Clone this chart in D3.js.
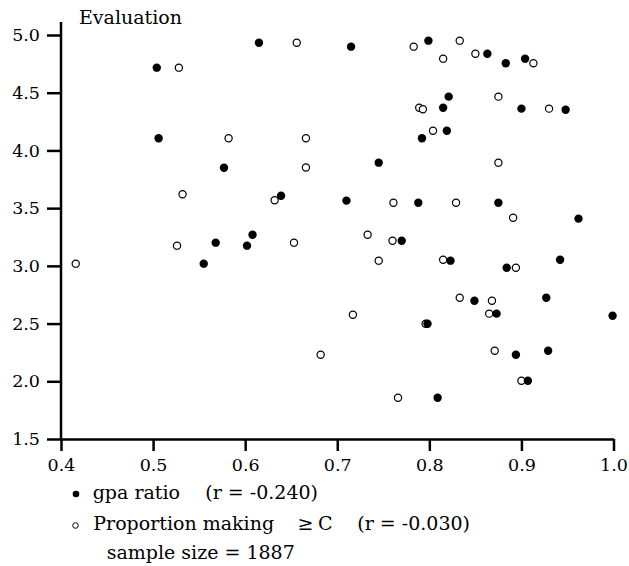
<!DOCTYPE html>
<html>
<meta charset="utf-8">
<style>
body { margin: 0; background: #fff; }
text { font-family: "DejaVu Serif", serif; font-size: 19px; fill: #000; }
.axis path, .axis line { fill: none; stroke: #000; stroke-width: 2.5px; }
.axis text { font-family: "DejaVu Serif", serif; font-size: 17.5px; }
circle.gpa { fill: #000; }
circle.prop { fill: #fff; stroke: #000; stroke-width: 1.2px; }
</style>
<body>
<div id="chart"></div>
<script src="https://d3js.org/d3.v7.min.js"></script>
<script>

// filled dots: gpa ratio vs evaluation
var gpaRatio = [0.799, 0.615, 0.715, 0.863, 0.904, 0.883, 0.504, 0.821, 0.815, 0.900,
    0.948, 0.819, 0.506, 0.792, 0.745, 0.577, 0.639, 0.710, 0.788, 0.875,
    0.962, 0.608, 0.770, 0.568, 0.602, 0.823, 0.942, 0.555, 0.884, 0.927,
    0.849, 0.873, 0.999, 0.798, 0.894, 0.929, 0.907, 0.809];
var gpaEval = [4.951, 4.933, 4.899, 4.838, 4.795, 4.755, 4.717, 4.466, 4.370, 4.362,
    4.353, 4.171, 4.105, 4.105, 3.894, 3.850, 3.608, 3.565, 3.547, 3.547,
    3.409, 3.270, 3.218, 3.201, 3.175, 3.045, 3.053, 3.019, 2.984, 2.724,
    2.698, 2.586, 2.568, 2.499, 2.230, 2.265, 2.005, 1.858];

// open dots: proportion making >= C vs evaluation
var propC = [0.833, 0.656, 0.783, 0.850, 0.815, 0.913, 0.528, 0.875, 0.789, 0.930,
    0.793, 0.804, 0.582, 0.666, 0.875, 0.666, 0.532, 0.632, 0.761, 0.829,
    0.891, 0.733, 0.760, 0.653, 0.526, 0.745, 0.815, 0.416, 0.894, 0.833,
    0.868, 0.865, 0.717, 0.796, 0.682, 0.871, 0.900, 0.766];
var propEval = [4.951, 4.933, 4.899, 4.838, 4.795, 4.755, 4.717, 4.466, 4.370, 4.362,
    4.357, 4.171, 4.105, 4.105, 3.894, 3.852, 3.620, 3.568, 3.547, 3.547,
    3.417, 3.270, 3.218, 3.201, 3.175, 3.045, 3.053, 3.019, 2.984, 2.724,
    2.698, 2.586, 2.577, 2.499, 2.230, 2.265, 2.005, 1.858];

var xTicks = [0.4, 0.5, 0.6, 0.7, 0.8, 0.9, 1.0];
var yTicks = [1.5, 2.0, 2.5, 3.0, 3.5, 4.0, 4.5, 5.0];

var width = 629, height = 566;

var x = d3.scaleLinear()
    .domain([0.4, 1.0])
    .range([61, 613.5]);

var y = d3.scaleLinear()
    .domain([1.5, 5.0])
    .range([439, 35]);

var svg = d3.select("#chart").append("svg")
    .attr("width", width)
    .attr("height", height);

var xAxis = d3.axisBottom(x)
    .tickValues(xTicks)
    .tickFormat(d3.format(".1f"))
    .tickSizeInner(12)
    .tickSizeOuter(0)
    .tickPadding(8);

var yAxis = d3.axisLeft(y)
    .tickValues(yTicks)
    .tickFormat(d3.format(".1f"))
    .tickSizeInner(14)
    .tickSizeOuter(0)
    .tickPadding(7);

svg.append("g")
    .attr("class", "x axis")
    .attr("transform", "translate(0," + y(1.5) + ")")
    .call(xAxis);

var gy = svg.append("g")
    .attr("class", "y axis")
    .attr("transform", "translate(" + x(0.4) + ",0)")
    .call(yAxis);

// y axis line runs a little above the top tick
gy.select(".domain").attr("d", "M0," + y(1.5) + "V" + (y(5.0) - 13));

svg.append("text")
    .attr("x", x(0.4) + 18)
    .attr("y", y(5.0) - 11)
    .text("Evaluation");

svg.append("g").selectAll("circle")
    .data(propC)
    .join("circle")
    .attr("class", "prop")
    .attr("cx", function(d) { return x(d); })
    .attr("cy", function(d, i) { return y(propEval[i]); })
    .attr("r", 3.6);

svg.append("g").selectAll("circle")
    .data(gpaRatio)
    .join("circle")
    .attr("class", "gpa")
    .attr("cx", function(d) { return x(d); })
    .attr("cy", function(d, i) { return y(gpaEval[i]); })
    .attr("r", 4.2);

// legend
var lg = svg.append("g");

lg.append("circle").attr("cx", 76).attr("cy", 494).attr("r", 3.3).attr("fill", "#000");
lg.append("text").attr("x", 92.7).attr("y", 498.5).text("gpa ratio");
lg.append("text").attr("x", 205.3).attr("y", 498.5).text("(r = -0.240)");

lg.append("circle").attr("cx", 75.5).attr("cy", 525.5).attr("r", 2.8)
    .attr("fill", "none").attr("stroke", "#000").attr("stroke-width", 1);
lg.append("text").attr("x", 93.3).attr("y", 530).text("Proportion making");
lg.append("text").attr("x", 297.5).attr("y", 530).text("\u2265");
lg.append("text").attr("x", 318).attr("y", 530).text("C");
lg.append("text").attr("x", 357.3).attr("y", 530).text("(r = -0.030)");

lg.append("text").attr("x", 106.7).attr("y", 558.5).text("sample size = 1887");

</script>
</body>
</html>
